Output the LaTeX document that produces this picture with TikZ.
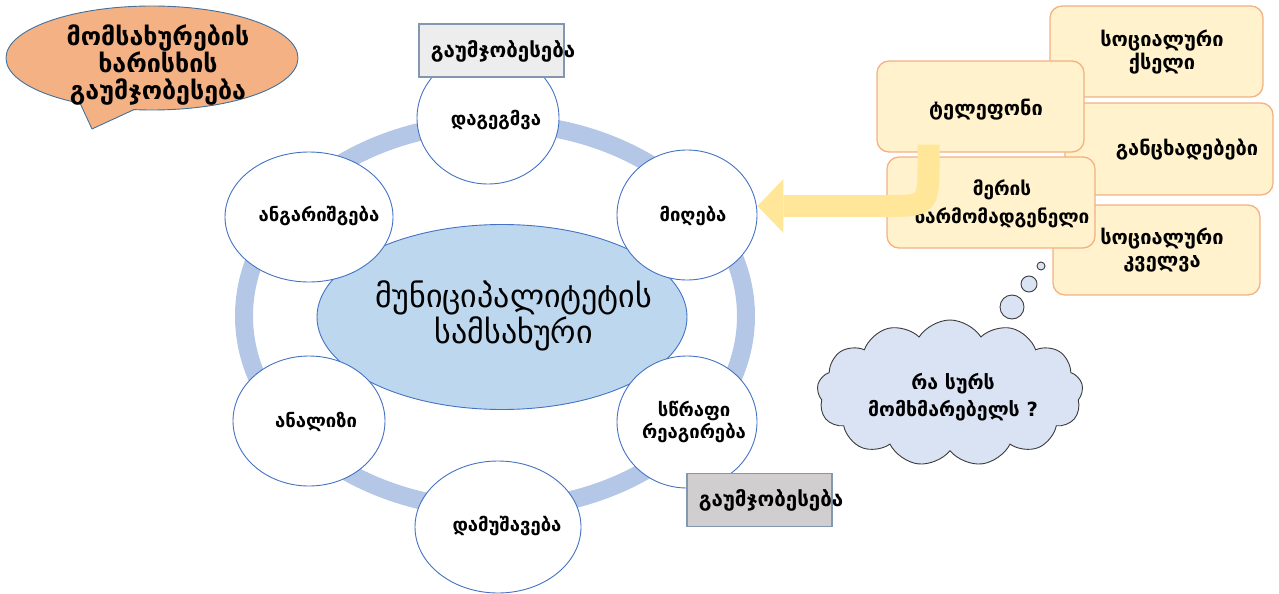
\documentclass[tikz,border=0pt]{standalone}
\usepackage{fontspec}
\setmainfont{DejaVu Sans}
\usetikzlibrary{shapes.geometric,shapes.symbols,calc}
\definecolor{ringc}{HTML}{B4C7E7}
\definecolor{circb}{HTML}{4472C4}
\definecolor{cellfill}{HTML}{BDD7EE}
\definecolor{bubfill}{HTML}{F4B183}
\definecolor{bubline}{HTML}{41719C}
\definecolor{boxfill}{HTML}{FFF2CC}
\definecolor{boxline}{HTML}{F4B183}
\definecolor{grayA}{HTML}{EDEDED}
\definecolor{grayB}{HTML}{D0CECE}
\definecolor{grayline}{HTML}{8497B0}
\definecolor{arrowc}{HTML}{FFE699}
\definecolor{cloudfill}{HTML}{DAE3F3}
\definecolor{cloudline}{HTML}{3B3B3B}
\tikzset{
  circ/.style={ellipse, draw=circb, line width=0.9pt, fill=white, inner sep=0pt},
  ctext/.style={font=\bfseries\fontsize{18.5}{22}\selectfont, align=center, inner sep=0pt},
  obox/.style={rectangle, rounded corners=12pt, draw=boxline, line width=1.3pt,
    fill=boxfill, inner sep=0pt},
  otext/.style={font=\bfseries\fontsize{20}{23}\selectfont, align=center, inner sep=0pt},
  gbox/.style={rectangle, draw=grayline, line width=1.2pt, inner sep=0pt,
    minimum width=145pt, minimum height=53pt},
  gtext/.style={font=\bfseries\fontsize{20.5}{24}\selectfont, inner sep=0pt},
  thought/.style={circle, draw=cloudline, line width=0.9pt, fill=cloudfill, inner sep=0pt},
}
\begin{document}
\begin{tikzpicture}[x=1pt,y=-1pt]
\useasboundingbox (0,0) rectangle (1279,594);
% speech bubble
\node[ellipse, fill=bubfill, draw=bubline, line width=0.9pt, minimum width=292pt, minimum height=104pt] (bub) at (152,58) {};
\coordinate (bubA) at (80,103);
\coordinate (bubB) at (134,109.6);
\coordinate (bubtip) at (92,129);
\fill[bubfill] (bubA) -- (bubtip) -- (bubB) -- (134,98) -- (80,94) -- cycle;
\draw[bubline, line width=0.9pt, line join=round] (bubA) -- (bubtip) -- (bubB);
\node[font=\bfseries\fontsize{25}{26.5}\selectfont, align=center, inner sep=0pt] (bubtext) at (158,65) {მომსახურების\\ხარისხის\\გაუმჯობესება};
% ring
\draw[ringc, line width=18pt] (495,316) ellipse [x radius=251pt, y radius=193pt];
% centre
\node[ellipse, draw=circb, fill=cellfill, line width=0.9pt, minimum width=370pt, minimum height=185pt] (muni) at (502,317) {};
\node[font=\fontsize{32}{31}\selectfont, align=center, inner sep=0pt] (munitext) at (514,316)
  {\iffontchar\font"1C9B ᲛᲣᲜᲘᲪᲘᲞᲐᲚᲘᲢᲔᲢᲘᲡ\\ᲡᲐᲛᲡᲐᲮᲣᲠᲘ\else მუნიციპალიტეტის\\სამსახური\fi};
% circles
\node[circ, minimum width=142pt, minimum height=132pt] (plan) at (488,118) {};
\node[ctext] (plantext) at (496,120) {დაგეგმვა};
\node[circ, minimum width=140pt, minimum height=130pt] (mig) at (687,215) {};
\node[ctext] (migtext) at (693,216) {მიღება};
\node[circ, minimum width=168pt, minimum height=130pt] (angar) at (309,217) {};
\node[ctext] (angartext) at (319,216) {ანგარიშგება};
\node[circ, minimum width=152pt, minimum height=130pt] (anal) at (309,421) {};
\node[ctext] (analtext) at (316,422) {ანალიზი};
\node[circ, minimum width=140pt, minimum height=132pt] (swr) at (687,422) {};
\node[ctext] (swrtext) at (694,422) {სწრაფი\\რეაგირება};
\node[circ, minimum width=166pt, minimum height=132pt] (dam) at (498,527) {};
\node[ctext] (damtext) at (507,526) {დამუშავება};
% gray boxes
\node[gbox, fill=grayA] (gtop) at (491.5,50.5) {};
\node[gtext] (gtoptext) at (503,51) {გაუმჯობესება};
\node[gbox, fill=grayB] (gbot) at (759.5,500) {};
\node[gtext] (gbottext) at (771,500) {გაუმჯობესება};
% orange boxes
\node[obox, minimum width=213pt, minimum height=91pt] (ksel) at (1156.5,51.5) {};
\node[otext] (kseltext) at (1162,52) {სოციალური\\ქსელი};
\node[obox, minimum width=208pt, minimum height=92pt] (gancx) at (1169,149) {};
\node[otext] (gancxtext) at (1187,150) {განცხადებები};
\node[obox, minimum width=207pt, minimum height=90pt] (kvl) at (1156.5,250) {};
\node[otext] (kvltext) at (1162,250) {სოციალური\\კველვა};
\node[obox, minimum width=207pt, minimum height=91pt] (tel) at (980.5,106.5) {};
\node[otext] (teltext) at (986,110) {ტელეფონი};
\node[obox, minimum width=208pt, minimum height=91pt] (mer) at (991,202.5) {};
\node[otext, font=\bfseries\fontsize{19}{28}\selectfont] (mertext) at (1002,204) {მერის\\წარმომადგენელი};
% arrow
\coordinate (astart) at ([xshift=-52pt,yshift=8pt]tel.south);
\coordinate (atip) at ([yshift=9pt]mig.east);
\coordinate (abase) at ($(atip)+(26,0)$);
\draw[arrowc, line width=22pt] (astart) -- ++(0,16) .. controls ($(astart|-abase)$) .. ($(abase)+(100,0)$) -- (abase);
\fill[arrowc] (atip) -- ($(abase)+(0,-27)$) -- ($(abase)+(0,27)$) -- cycle;
% cloud
\node[cloud, cloud puffs=13, cloud puff arc=115, aspect=1.8, draw=cloudline, line width=0.9pt, fill=cloudfill, minimum width=266pt, minimum height=146pt, inner sep=0pt] (cloud) at (950,393) {};
\node[font=\bfseries\fontsize{19.5}{27}\selectfont, align=center, inner sep=0pt] (cloudtext) at (953,397) {რა სურს\\მომხმარებელს ?};
\node[thought, minimum size=24pt] (th1) at (1012,307) {};
\node[thought, minimum size=16pt] (th2) at (1029,284) {};
\node[thought, minimum size=8pt] (th3) at (1041,266) {};
\end{tikzpicture}
\end{document}
